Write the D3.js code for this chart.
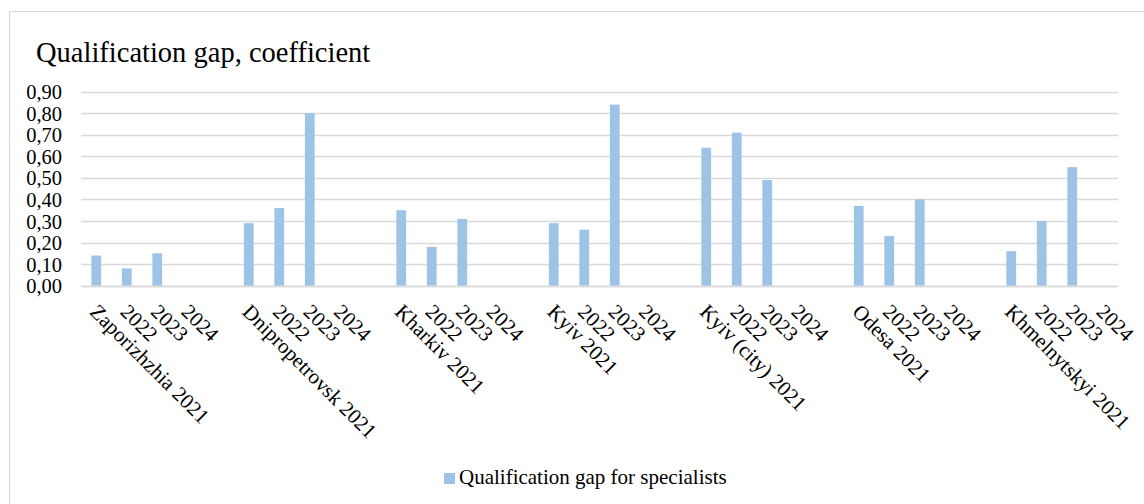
<!DOCTYPE html>
<html>
<head>
<meta charset="utf-8">
<script src="https://cdn.jsdelivr.net/npm/d3@7"></script>
<style>
  html, body { margin: 0; padding: 0; background: #fff; }
  svg { display: block; }
  svg text { font-family: "Liberation Serif", "Times New Roman", serif; fill: #000; }
</style>
</head>
<body>
<svg id="chart" width="1144" height="504"></svg>
<script>
// Regions and years; an empty slot separates each region group on the axis
const regions = ["Zaporizhzhia", "Dnipropetrovsk", "Kharkiv", "Kyiv", "Kyiv (city)", "Odesa", "Khmelnytskyi"];
const years = ["2021", "2022", "2023", "2024"];

// Qualification gap for specialists, per region, years 2021..2024 (2024 has no value)
const zaporizhzhia   = [0.14, 0.08, 0.15, null];
const dnipropetrovsk = [0.29, 0.36, 0.80, null];
const kharkiv        = [0.35, 0.18, 0.31, null];
const kyiv           = [0.29, 0.26, 0.84, null];
const kyivCity       = [0.64, 0.71, 0.49, null];
const odesa          = [0.37, 0.23, 0.40, null];
const khmelnytskyi   = [0.16, 0.30, 0.55, null];

const yTicks = [0, 0.1, 0.2, 0.3, 0.4, 0.5, 0.6, 0.7, 0.8, 0.9];
const seriesName = "Qualification gap for specialists";
const title = "Qualification gap, coefficient";

const seriesByRegion = [zaporizhzhia, dnipropetrovsk, kharkiv, kyiv, kyivCity, odesa, khmelnytskyi];

// Build category slots: four years per region, blank slot between groups
const slots = [];
regions.forEach((r, ri) => {
  years.forEach((y, yi) => {
    slots.push({
      key: r + "|" + y,
      label: yi === 0 ? r + " " + y : y,
      value: seriesByRegion[ri][yi]
    });
  });
  if (ri < regions.length - 1) slots.push({ key: "gap" + ri, label: "", value: null });
});

const svg = d3.select("#chart");
const W = 1144, H = 504;
const plot = { left: 81, right: 1118, top: 91.7, bottom: 285.7 };

// Outer chart border
svg.append("rect")
  .attr("x", 9.5).attr("y", 11.5)
  .attr("width", W + 20).attr("height", H + 20)
  .attr("fill", "none").attr("stroke", "#d9d9d9").attr("stroke-width", 1);

svg.append("text")
  .attr("x", 36).attr("y", 62)
  .attr("font-size", 28.5)
  .text(title);

const x = d3.scaleBand()
  .domain(slots.map(d => d.key))
  .range([plot.left, plot.right])
  .paddingInner(0.68).paddingOuter(0.34);

const y = d3.scaleLinear().domain([0, 0.9]).range([plot.bottom, plot.top]);

// Horizontal gridlines
svg.append("g")
  .selectAll("line")
  .data(yTicks)
  .join("line")
  .attr("x1", plot.left).attr("x2", plot.right)
  .attr("y1", d => Math.round(y(d)) + 0.5).attr("y2", d => Math.round(y(d)) + 0.5)
  .attr("stroke", "#d9d9d9").attr("stroke-width", 1.3);

// Y axis labels
const fmt = d => d3.format(".2f")(d).replace(".", ",");
const yAxis = d3.axisLeft(y).tickValues(yTicks).tickFormat(fmt).tickSize(0).tickPadding(0);
const yg = svg.append("g").attr("transform", "translate(62,0)").call(yAxis);
yg.attr("font-family", null).attr("font-size", null);
yg.select(".domain").remove();
yg.selectAll("text")
  .attr("font-size", 20.5).attr("fill", "#000").attr("dy", "0.34em");

// Bars
svg.append("g")
  .selectAll("rect")
  .data(slots.filter(d => d.value !== null))
  .join("rect")
  .attr("x", d => x(d.key))
  .attr("width", x.bandwidth())
  .attr("y", d => y(d.value))
  .attr("height", d => y(0) - y(d.value))
  .attr("fill", "#9dc3e6");

// Category axis line
svg.append("line")
  .attr("x1", plot.left).attr("x2", plot.right)
  .attr("y1", Math.round(y(0)) + 0.5).attr("y2", Math.round(y(0)) + 0.5)
  .attr("stroke", "#d9d9d9").attr("stroke-width", 1.3);

// Rotated category labels
svg.append("g")
  .selectAll("text")
  .data(slots.filter(d => d.label))
  .join("text")
  .attr("transform", d => `translate(${x(d.key) + x.bandwidth() / 2 + 3},${plot.bottom + 17}) rotate(45)`)
  .attr("dy", "0.7em")
  .attr("font-size", 21)
  .text(d => d.label);

// Legend
const lg = svg.append("g").attr("transform", "translate(444,473)");
lg.append("rect").attr("width", 11).attr("height", 11).attr("fill", "#9dc3e6");
lg.append("text").attr("x", 15).attr("y", 11).attr("font-size", 21).text(seriesName);
</script>
</body>
</html>
